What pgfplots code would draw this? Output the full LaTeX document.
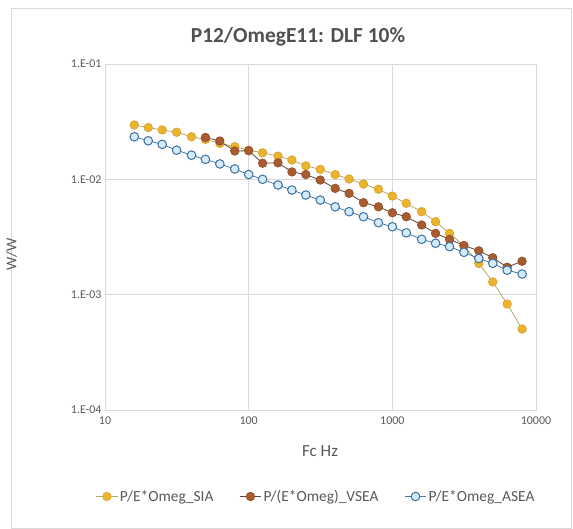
\documentclass[border=0pt]{standalone}
\usepackage{fontspec}
\setmainfont{Carlito}
\usepackage{pgfplots}
\pgfplotsset{compat=1.18}
\definecolor{siaFill}{RGB}{234,180,46}
\definecolor{siaDraw}{RGB}{214,160,40}
\definecolor{siaLine}{RGB}{185,165,110}
\definecolor{vseaFill}{RGB}{168,92,48}
\definecolor{vseaDraw}{RGB}{140,76,40}
\definecolor{vseaLine}{RGB}{95,70,55}
\definecolor{aseaFill}{RGB}{212,236,250}
\definecolor{aseaDraw}{RGB}{62,112,160}
\definecolor{aseaLine}{RGB}{70,120,170}
\definecolor{gridc}{RGB}{217,217,217}
\definecolor{txt}{RGB}{89,89,89}
\begin{document}
\begin{tikzpicture}
\useasboundingbox (0,0) rectangle (573bp,529bp);
\draw[gridc, line width=0.8bp] (11bp,1bp) rectangle (571bp,521bp);
\node[font=\fontsize{21.5}{26}\selectfont\bfseries, text=txt!90!black] at (298bp,492bp) {P12/OmegE11: DLF 10\%};
\begin{axis}[
  at={(105bp,119bp)}, anchor=south west,
  scale only axis, width=431bp, height=346bp,
  xmode=log, ymode=log,
  xmin=10, xmax=10000, ymin=1e-4, ymax=1e-1,
  xtick={10,100,1000,10000}, xticklabels={10,100,1000,10000},
  ytick={1e-4,1e-3,1e-2,1e-1}, yticklabels={1.E-04,1.E-03,1.E-02,1.E-01},
  minor tick num=0, minor xtick={}, minor ytick={},
  xmajorgrids, ymajorgrids,
  grid style={gridc, line width=0.8bp},
  axis line style={gridc, line width=0.8bp},
  tick style={draw=none},
  /pgf/number format/assume math mode=true,
  tick label style={font=\fontsize{12}{14}\selectfont, text=txt},
  xticklabel style={yshift=-3bp},
  xlabel={Fc Hz}, ylabel={W/W},
  label style={font=\fontsize{17}{20}\selectfont, text=txt},
  xlabel style={at={(axis description cs:0.499,-0.118)}, anchor=center},
  ylabel style={at={(axis description cs:-0.217,0.45)}, anchor=center, font=\fontsize{15}{18}\selectfont},
  legend columns=3,
  legend style={draw=none, fill=none, at={(axis description cs:0.49,-0.25)}, anchor=center,
    font=\fontsize{15.5}{18}\selectfont, text=txt,
    /tikz/every even column/.append style={column sep=24bp}},
  legend image code/.code={
    \draw[#1, mark=none] (0cm,0cm) -- (0.75cm,0cm);
    \draw[#1, only marks] plot coordinates {(0.375cm,0cm)};
  },
]
\addplot[siaLine, line width=0.8bp, mark=*, mark size=4.3bp, mark options={fill=siaFill, draw=siaDraw, line width=0.6bp}] coordinates {
(16,0.0296)(20,0.0281)(25,0.0268)(31.5,0.0256)(40,0.0234)(50,0.0222)(63,0.0205)(80,0.0192)
(100,0.0179)(125,0.0170)(160,0.0159)(200,0.0147)(250,0.0131)(315,0.0122)(400,0.0110)(500,0.01007)
(630,0.0091)(800,0.0082)(1000,0.00716)(1250,0.0062)(1600,0.00524)(2000,0.00429)(2500,0.0034)
(3150,0.00266)(4000,0.00187)(5000,0.00129)(6300,0.00083)(8000,0.000504)
};
\addlegendentry{P/E*Omeg\_SIA}
\addplot[vseaLine, line width=0.8bp, mark=*, mark size=4.3bp, mark options={fill=vseaFill, draw=vseaDraw, line width=0.6bp}] coordinates {
(50,0.0231)(63,0.0215)(80,0.0176)(100,0.0177)(125,0.0138)(160,0.0139)(200,0.0116)(250,0.0110)
(315,0.00986)(400,0.00835)(500,0.00756)(630,0.00627)(800,0.00578)(1000,0.00513)(1250,0.00474)
(1600,0.00402)(2000,0.0034)(2500,0.00302)(3150,0.00267)(4000,0.0024)(5000,0.00209)(6300,0.00173)(8000,0.00195)
};
\addlegendentry{P/(E*Omeg)\_VSEA}
\addplot[aseaLine, line width=0.8bp, mark=*, mark size=4.3bp, mark options={fill=aseaFill, draw=aseaDraw, line width=1bp}] coordinates {
(16,0.0234)(20,0.0216)(25,0.0201)(31.5,0.0179)(40,0.0162)(50,0.0149)(63,0.0136)(80,0.0123)
(100,0.0110)(125,0.0100)(160,0.00893)(200,0.00807)(250,0.00731)(315,0.00661)(400,0.00578)
(500,0.00524)(630,0.00474)(800,0.00421)(1000,0.00388)(1250,0.00344)(1600,0.00302)(2000,0.00279)
(2500,0.00261)(3150,0.00233)(4000,0.00206)(5000,0.00187)(6300,0.00163)(8000,0.00151)
};
\addlegendentry{P/E*Omeg\_ASEA}
\end{axis}
\end{tikzpicture}
\end{document}
